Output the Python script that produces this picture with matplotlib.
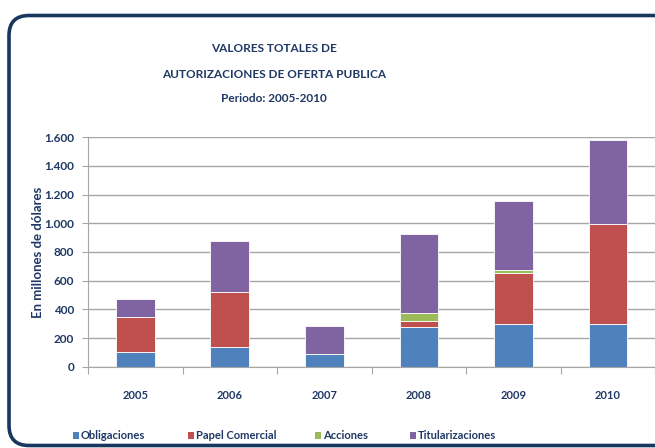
import matplotlib
matplotlib.use('Agg')
import matplotlib.pyplot as plt
from matplotlib.patches import FancyBboxPatch, Rectangle
import numpy as np

plt.rcParams['font.family'] = ['Lato', 'DejaVu Sans']

# ── Data ──────────────────────────────────────────────────────────────────────
years = ['2005', '2006', '2007', '2008', '2009', '2010']
obligaciones = [105, 135, 89, 277, 296, 296]
papel_comercial = [239, 388, 0, 42, 359, 697]
acciones = [0, 0, 0, 58, 17, 0]
titularizaciones = [130, 356, 197, 550, 486, 590]

series_names = ['Obligaciones', 'Papel Comercial', 'Acciones', 'Titularizaciones']
series_vals = [obligaciones, papel_comercial, acciones, titularizaciones]
colors = ['#4F81BD', '#C0504D', '#9BBB59', '#8064A2']

NAVY = '#1F3864'
GRID = '#A6A6A6'
W, H = 655, 448

# ── Figure ────────────────────────────────────────────────────────────────────
fig = plt.figure(figsize=(6.55, 4.48), dpi=100)
fig.patch.set_facecolor('white')

# rounded frame (extends past right edge)
frame = FancyBboxPatch((0.09, 0.025), 7.0, 4.30,
                       boxstyle='round,pad=0,rounding_size=0.2',
                       transform=fig.dpi_scale_trans, facecolor='none',
                       edgecolor='#17375E', linewidth=2.6, clip_on=False)
fig.patches.append(frame)

ax = fig.add_axes([0.1344, 0.1815, 0.866, 0.512])
x = np.arange(len(years))
bottom = np.zeros(len(years))
for name, vals, c in zip(series_names, series_vals, colors):
    ax.bar(x, vals, width=0.41, bottom=bottom, color=c, edgecolor='white',
           linewidth=0.6, label=name, zorder=3)
    bottom += np.array(vals)

ax.set_xlim(-0.5, len(years) - 0.5)
ax.set_ylim(0, 1600)
ax.set_yticks(np.arange(0, 1601, 200))
ax.set_yticklabels(['0', '200', '400', '600', '800', '1.000', '1.200', '1.400', '1.600'])
ax.yaxis.grid(True, color=GRID, linewidth=1.0, zorder=0)
ax.set_axisbelow(True)

ax.set_xticks(np.arange(-0.5, len(years), 1.0))
ax.set_xticklabels([])
ax.set_xticks(x, minor=True)
ax.set_xticklabels(years, minor=True)
ax.tick_params(axis='x', which='major', direction='out', length=5, color=GRID)
ax.tick_params(axis='x', which='minor', length=0, pad=17, labelsize=8,
               labelcolor=NAVY)
ax.tick_params(axis='y', direction='out', length=4, color=GRID, labelsize=8.5,
               labelcolor=NAVY, pad=6)
for lbl in ax.get_xticklabels(minor=True) + ax.get_yticklabels():
    lbl.set_fontweight('bold')

for s in ['top', 'right']:
    ax.spines[s].set_visible(False)
ax.spines['left'].set_color(GRID)
ax.spines['bottom'].set_color(GRID)

fig.text(38 / W, 1 - 252 / H, 'En millones de dólares', rotation=90,
         ha='center', va='center', fontsize=9.5, fontweight='bold', color=NAVY)

# ── Title ─────────────────────────────────────────────────────────────────────
for txt, py in [('VALORES TOTALES DE', 48.7),
                ('AUTORIZACIONES DE OFERTA PUBLICA', 74),
                ('Periodo: 2005-2010', 99)]:
    fig.text(274 / W, 1 - py / H, txt, ha='center', va='center',
             fontsize=8.5, fontweight='bold', color=NAVY)

# ── Legend ────────────────────────────────────────────────────────────────────
leg_x = [73, 188, 315, 410]
leg_y = 435
for name, c, lx in zip(series_names, colors, leg_x):
    fig.patches.append(Rectangle((lx / W, 1 - (leg_y + 3.5) / H), 6 / W, 7 / H,
                                 transform=fig.transFigure, facecolor=c,
                                 edgecolor='none'))
    fig.text((lx + 8) / W, 1 - leg_y / H, name, ha='left', va='center',
             fontsize=8, fontweight='bold', color=NAVY)

fig.savefig('out.png', dpi=100, facecolor='white')
